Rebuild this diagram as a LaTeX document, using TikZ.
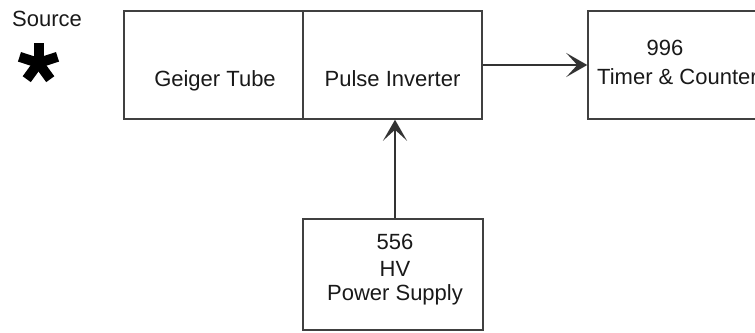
\documentclass[tikz,border=0pt]{standalone}
\usepackage{fontspec}
\setmainfont{Liberation Sans}
\usetikzlibrary{arrows.meta}
\begin{document}
\begin{tikzpicture}[x=1pt,y=-1pt,
  blockbox/.style={draw=black!75,line width=1.5pt,minimum width=#1,inner sep=0pt},
  lbl/.style={anchor=base,inner sep=0pt,font=\fontsize{22}{26}\selectfont,text=black!90},
  conn/.style={draw=black!80,line width=1.6pt,-{Stealth[length=21pt,width=24pt,inset=11pt]}}]
\useasboundingbox (0,0) rectangle (755,332);
\clip (0,0) rectangle (755,332);
% boxes
\node[blockbox=179pt,minimum height=108pt] (geiger) at (213.5,65) {};
\node[blockbox=179pt,minimum height=108pt] (pulse) at (392.5,65) {};
\node[blockbox=184pt,minimum height=108pt] (timer) at (680,65) {};
\node[blockbox=180pt,minimum height=111pt] (power) at (393,274.5) {};
% labels
\node[lbl] (src) at (47,27) {Source};
\node[lbl] (tg) at (215,86) {Geiger Tube};
\node[lbl] (tp) at (392.5,86) {Pulse Inverter};
\node[lbl] (t996) at (665,55) {996};
\node[lbl,anchor=base west] (ttc) at (597,84) {Timer \& Counter};
\node[lbl] (t556) at (395,249) {556};
\node[lbl] (thv) at (395,276) {HV};
\node[lbl] (tps) at (395,300) {Power Supply};
% asterisk
\coordinate (star) at (38.5,63);
\foreach \a in {90,18,162,-54,-126}
  \draw[line width=10pt,black] (star) -- ++(\a:-20);
% connectors
\draw[conn] (pulse.east) -- (timer.west);
\draw[conn] (power.north -| pulse.south) ++(2.5,0) coordinate (pwtop) -- (pwtop |- pulse.south);
\end{tikzpicture}
\end{document}
